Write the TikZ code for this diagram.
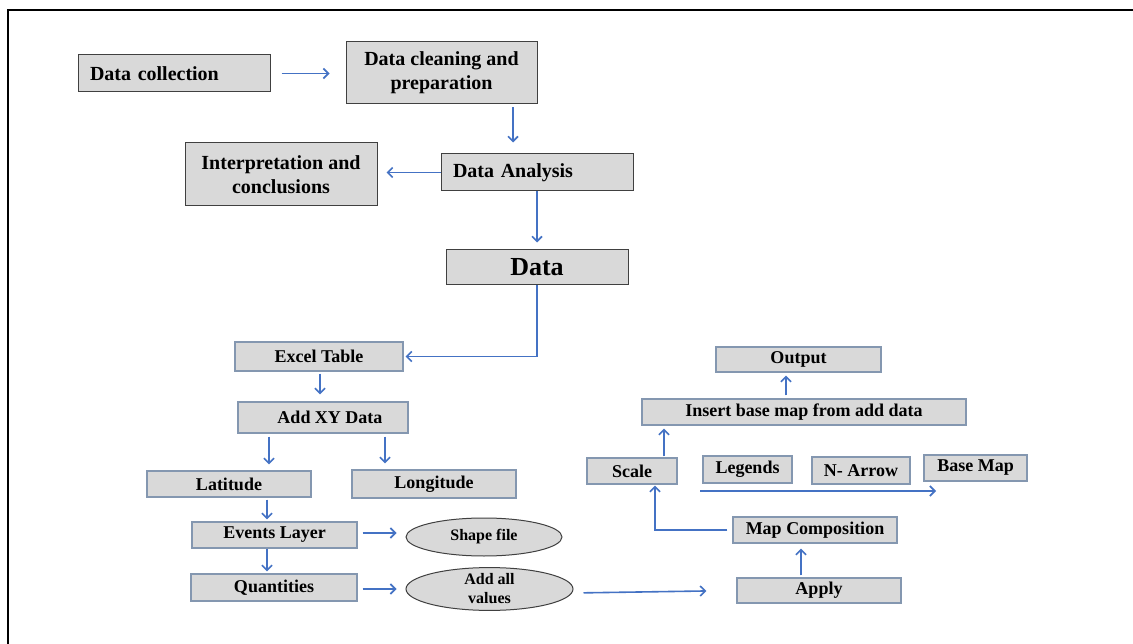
\documentclass[tikz,border=0pt]{standalone}
\usepackage{fontspec}
\setmainfont{Liberation Serif}
\usetikzlibrary{arrows.meta,shapes.geometric,calc}
\definecolor{arrowblue}{HTML}{4472C4}
\definecolor{boxfill}{HTML}{D9D9D9}
\definecolor{boxedgeA}{HTML}{404040}
\definecolor{boxedgeB}{HTML}{8497B0}
\tikzset{
  topbox/.style={draw=boxedgeA,fill=boxfill,line width=1pt,rectangle,inner sep=0pt,
     font=\fontsize{20}{24}\selectfont\bfseries,align=center},
  lowbox/.style={draw=boxedgeB,fill=boxfill,line width=1.3pt,rectangle,inner sep=0pt,
     font=\fontsize{18}{20}\selectfont\bfseries,align=center},
  ellbox/.style={draw=boxedgeA,fill=boxfill,line width=1pt,ellipse,inner sep=0pt,
     font=\fontsize{16}{19}\selectfont\bfseries,align=center},
  arr/.style={draw=arrowblue,line width=1.6pt,-{Straight Barb[length=5pt,width=10pt]}},
}
\begin{document}
\begin{tikzpicture}[x=1pt,y=-1pt]
\useasboundingbox (0,0) rectangle (1133,644);
\fill[white] (0,0) rectangle (1133,644);
\draw[black,line width=1.6pt] (8,644) -- (8,10) -- (1133,10);

% top part
\node[topbox,minimum width=192pt,minimum height=37pt,text width=168pt,align=left] (dc) at (174,73.5) {Data collection};
\node[topbox,minimum width=191pt,minimum height=62pt] (dcp) at (441.5,73) {Data cleaning and\\preparation};
\node[topbox,minimum width=192pt,minimum height=37pt,text width=168pt,align=left] (da) at (537,172.5) {Data Analysis};
\node[topbox,minimum width=192pt,minimum height=63pt] (ic) at (281,174.5) {Interpretation and\\conclusions};
\node[topbox,minimum width=182pt,minimum height=35pt,font=\fontsize{26}{30}\selectfont\bfseries] (data) at (537,267.5) {Data};

% lower left
\node[lowbox,minimum width=168pt,minimum height=29pt] (et) at (319,356.5) {Excel Table};
\node[lowbox,minimum width=170pt,minimum height=31pt] (xy) at (323,417.5) {\hspace*{14pt}Add XY Data};
\node[lowbox,minimum width=164pt,minimum height=26pt] (lat) at (229,484) {Latitude};
\node[lowbox,minimum width=164pt,minimum height=28pt] (lon) at (434,484) {Longitude};
\node[lowbox,minimum width=165pt,minimum height=26pt] (ev) at (274.5,535) {Events Layer};
\node[lowbox,minimum width=166pt,minimum height=27pt] (qu) at (274,587.5) {Quantities};
\node[ellbox,minimum width=156pt,minimum height=38pt] (shp) at (484,537) {Shape file};
\node[ellbox,minimum width=167pt,minimum height=38pt] (aav) at (489.5,589) {Add all\\values};

% right part
\node[lowbox,minimum width=164pt,minimum height=25pt] (apply) at (819,590.5) {Apply};
\node[lowbox,minimum width=164pt,minimum height=26pt] (mc) at (815,530) {Map Composition};
\node[lowbox,minimum width=90pt,minimum height=26pt] (scale) at (632,471) {Scale};
\node[lowbox,minimum width=89pt,minimum height=27pt] (leg) at (747.5,469.5) {Legends};
\node[lowbox,minimum width=98pt,minimum height=27pt] (narr) at (861,470.5) {N- Arrow};
\node[lowbox,minimum width=103pt,minimum height=26pt] (bm) at (975.5,468) {Base Map};
\node[lowbox,minimum width=324pt,minimum height=26pt] (ins) at (804,412) {Insert base map from add data};
\node[lowbox,minimum width=165pt,minimum height=25pt] (out) at (798.5,359.5) {Output};
\coordinate (la) at (700,491);
\coordinate (lb) at (936,491);

% connectors top
\draw[arr,shorten <=11pt,shorten >=16pt] (dc.east) -- (dc.east -| dcp.west);
\draw[arr,shorten <=3pt,shorten >=11pt] (dcp.south -| 513,0) -- (da.north -| 513,0);
\draw[arr,shorten >=9pt] (da.west) -- (da.west -| ic.east);
\draw[arr,shorten >=7pt] (da.south) -- (data.north);
\draw[arr,shorten >=2pt] (data.south) |- (et.east);

% connectors lower left
\draw[arr,shorten <=2pt,shorten >=7pt] (et.south -| 320,0) -- (xy.north -| 320,0);
\draw[arr,shorten <=3pt,shorten >=6pt] (xy.south -| 269,0) -- (lat.north -| 269,0);
\draw[arr,shorten <=3pt,shorten >=6pt] (xy.south -| 385,0) -- (lon.north -| 385,0);
\draw[arr,shorten <=2pt,shorten >=2pt] (lat.south -| 267,0) -- (ev.north -| 267,0);
\draw[arr,shorten <=0pt,shorten >=2pt] (ev.south -| 267,0) -- (qu.north -| 267,0);
\draw[arr,shorten <=5pt,shorten >=9pt] (ev.east |- 0,533) -- (shp.west |- 0,533);
\draw[arr,shorten <=5pt,shorten >=9pt] (qu.east |- 0,589) -- (aav.west);
\draw[arr,shorten <=10pt,shorten >=30pt] ($(aav.east)+(0,4)$) -- (apply.west);

% connectors right
\draw[arr,shorten <=2pt,shorten >=5pt] (apply.north -| 801,0) -- (mc.south -| 801,0);
\draw[arr,shorten <=5pt,shorten >=1pt] (mc.west) -| ([xshift=23pt]scale.south);
\draw[arr,shorten <=1pt,shorten >=3pt] ([xshift=32pt]scale.north) -- ([xshift=32pt]scale.north |- ins.south);
\draw[arr,shorten <=3pt,shorten >=3pt] (ins.north -| 786,0) -- (out.south -| 786,0);
\draw[arr] (la) -- (lb);
\end{tikzpicture}
\end{document}
